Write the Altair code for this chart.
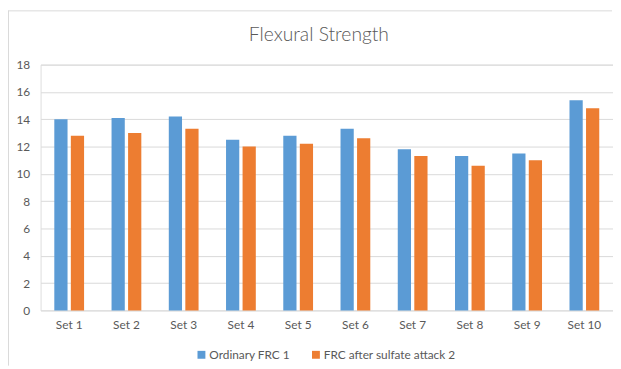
import altair as alt
import pandas as pd

sets = ["Set 1", "Set 2", "Set 3", "Set 4", "Set 5", "Set 6", "Set 7", "Set 8", "Set 9", "Set 10"]
series_names = ["Ordinary FRC 1", "FRC after sulfate attack 2"]
ordinary = [14.0, 14.1, 14.2, 12.5, 12.8, 13.3, 11.8, 11.3, 11.5, 15.4]
after_attack = [12.8, 13.0, 13.3, 12.0, 12.2, 12.6, 11.3, 10.6, 11.0, 14.8]
colors = ["#5B9BD5", "#ED7D31"]
y_ticks = [0, 2, 4, 6, 8, 10, 12, 14, 16, 18]
title_text = "Flexural Strength"

rows = []
for i, s in enumerate(sets):
    rows.append({"set": s, "series": series_names[0], "value": ordinary[i]})
    rows.append({"set": s, "series": series_names[1], "value": after_attack[i]})
df = pd.DataFrame(rows)

FONT = "Lato"
GRAY = "#595959"

bars = alt.Chart(df).mark_bar().encode(
    x=alt.X("set:N", sort=sets, title=None,
            scale=alt.Scale(paddingInner=0.48, paddingOuter=0.24),
            axis=alt.Axis(labelAngle=0, ticks=False, domain=False, labelPadding=9,
                          labelFont=FONT, labelFontSize=12, labelColor=GRAY)),
    xOffset=alt.XOffset("series:N", sort=series_names,
                        scale=alt.Scale(paddingInner=0.2, paddingOuter=0)),
    y=alt.Y("value:Q", title=None,
            scale=alt.Scale(domain=[0, 18]),
            axis=alt.Axis(values=y_ticks, ticks=False, domain=False, labelPadding=11,
                          gridColor="#d9d9d9", labelFont=FONT, labelFontSize=12,
                          labelColor=GRAY)),
    color=alt.Color("series:N", sort=series_names,
                    scale=alt.Scale(domain=series_names, range=colors),
                    legend=alt.Legend(title=None, orient="none", direction="horizontal",
                                      legendX=157, legendY=288, symbolType="square",
                                      symbolSize=64, symbolStrokeWidth=0,
                                      labelFont=FONT, labelFontSize=12, labelColor=GRAY,
                                      labelOffset=2, columnPadding=20)),
)

title_df = pd.DataFrame({"t": [title_text]})
title = alt.Chart(title_df).mark_text(
    font=FONT, fontSize=19.5, fontWeight=300, color=GRAY,
    align="center", baseline="middle").encode(
    x=alt.value(282), y=alt.value(-30), text="t:N")

frame_left = alt.Chart(title_df).mark_rule(color="#d9d9d9", strokeWidth=1).encode(
    x=alt.value(-32.5), y=alt.value(-55), y2=alt.value(305))
frame_top = alt.Chart(title_df).mark_rule(color="#d9d9d9", strokeWidth=1).encode(
    x=alt.value(-32.5), x2=alt.value(579), y=alt.value(-54.5))

chart = alt.layer(frame_left, frame_top, bars, title).properties(
    width=580, height=249,
    autosize=alt.AutoSizeParams(type="none"),
    padding={"left": 33, "top": 55, "right": 0, "bottom": 57},
).configure_view(stroke=None).configure(background="white")

chart.save("out.html", embed_options={"renderer": "svg", "actions": False})
